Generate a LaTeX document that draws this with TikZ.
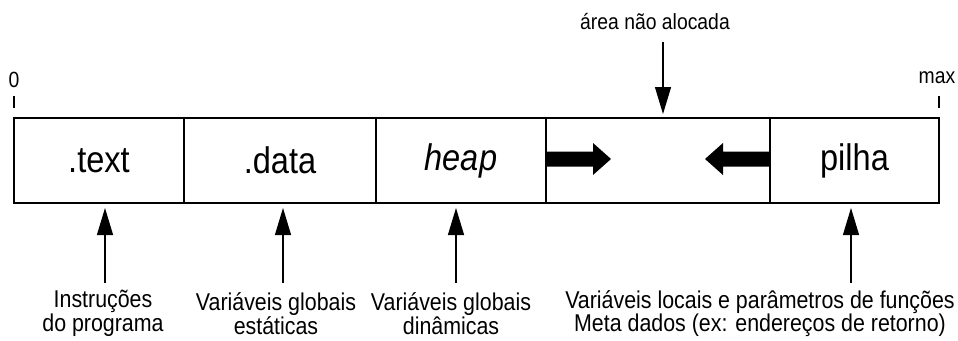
\documentclass[tikz,border=0pt]{standalone}
\usepackage{fontspec}
\setmainfont{Liberation Sans}
\newfontfamily\labfont[FakeStretch=0.88]{Liberation Sans}
\usetikzlibrary{arrows.meta}
\tikzset{
  cell/.style={draw, line width=1.6pt, rectangle, minimum height=85pt, inner sep=0pt, font={\labfont\fontsize{37}{40}\selectfont}},
  lbl/.style={align=center, inner sep=0pt, font={\labfont\fontsize{24.3}{23.5}\selectfont}},
  toplbl/.style={inner sep=0pt, font={\labfont\fontsize{22}{24}\selectfont}},
  thinarrow/.style={line width=1.2pt, -{Triangle[length=27pt,width=16pt]}},
  tick/.style={line width=1.6pt},
  bigarrow/.style={fill=black}
}
\begin{document}
\begin{tikzpicture}[x=1pt,y=-1pt]
\useasboundingbox (0,0) rectangle (958,340);
\fill[white] (0,0) rectangle (958,340);
% memory cells
\node[cell, minimum width=170pt] (text) at (99,160.5) {.text};
\node[cell, minimum width=192pt] (data) at (280,160.5) {.data};
\node[cell, minimum width=170pt] (heap) at (461,160.5) {\itshape heap};
\node[cell, minimum width=224pt] (free) at (658,160.5) {};
\node[cell, minimum width=169pt] (pilha) at (854.5,160.5) {pilha};
% growth arrows
\fill[bigarrow] (546,151.5) -- (593,151.5) -- (593,143) -- (611,159) -- (593,175) -- (593,166.5) -- (546,166.5) -- cycle;
\fill[bigarrow] (770,151.5) -- (723,151.5) -- (723,143) -- (705,159) -- (723,175) -- (723,166.5) -- (770,166.5) -- cycle;
% address ticks
\node[toplbl] (zero) at (14,80) {0};
\coordinate (z1) at (14,96);
\coordinate (z2) at (14,108);
\draw[tick] (z1) -- (z2);
\node[toplbl] (max) at (937,78) {max};
\coordinate (m1) at (939,96);
\coordinate (m2) at (939,108);
\draw[tick] (m1) -- (m2);
% unallocated area
\node[toplbl] (area) at (655,22) {área não alocada};
\coordinate (a1) at (663,42);
\coordinate (a2) at (663,114);
\draw[thinarrow] (a1) -- (a2);
% bottom labels
\node[lbl] (l1) at (103,313.5) {Instruções\\do programa};
\node[lbl] (l2) at (276,313.5) {Variáveis globais\\estáticas};
\node[lbl] (l3) at (451,313.5) {Variáveis globais\\dinâmicas};
\node[lbl] (l4) at (760,313.5) {Variáveis locais e parâmetros de funções\\Meta dados (ex: endereços de retorno)};
\coordinate (b1) at (105,283);
\coordinate (b2) at (283,283);
\coordinate (b3) at (456,283);
\coordinate (b4) at (851,283);
\coordinate (t1) at (105,208);
\coordinate (t2) at (283,208);
\coordinate (t3) at (456,208);
\coordinate (t4) at (851,208);
\draw[thinarrow] (b1) -- (t1);
\draw[thinarrow] (b2) -- (t2);
\draw[thinarrow] (b3) -- (t3);
\draw[thinarrow] (b4) -- (t4);
\end{tikzpicture}
\end{document}
